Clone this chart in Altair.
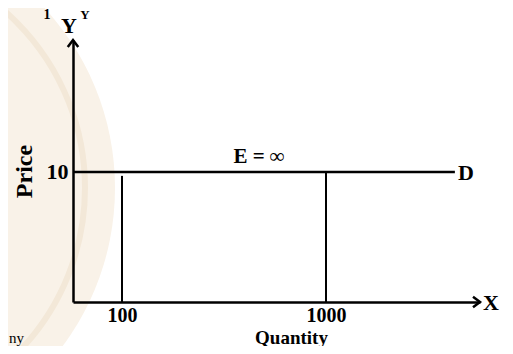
import altair as alt
import pandas as pd

# ---- data ----
quantity_ticks = [100, 1000]          # vertical lines / tick labels
line_tops = [9.7, 10]                 # price reached by each vertical line
price_level = 10                      # horizontal (perfectly elastic) demand
q_axis = [57.5, 5690]                 # quantity axis extent (schematic, log spaced)
q_demand_end = 4285                   # where the demand line D ends
p_axis = [0, 20.15]                   # price axis extent
e_label_q = 470                       # position of the "E = ∞" label along quantity

FONT = "Liberation Serif"

xs = alt.Scale(type="log", domain=q_axis, nice=False, zero=False)
ys = alt.Scale(domain=p_axis, nice=False, zero=False)

# watermark (decoration)
wm = pd.DataFrame({"k": [0]})
watermark = alt.Chart(wm).mark_point(
    shape="circle", filled=True, color="#f9f2e8", opacity=1, size=530**2
).encode(x=alt.value(-223), y=alt.value(148))
watermark_ring = alt.Chart(wm).mark_point(
    shape="circle", filled=False, color="#f3e8d8", opacity=1, strokeWidth=6, size=470**2
).encode(x=alt.value(-223), y=alt.value(148))

# axes via the scales
base = pd.DataFrame({"q": [q_axis[0], q_axis[1]], "p": [0, 0]})
axes = alt.Chart(base).mark_point(opacity=0).encode(
    x=alt.X("q:Q", scale=xs, axis=alt.Axis(
        values=quantity_ticks, format="d", ticks=False, grid=False, zindex=1,
        domainColor="black", domainWidth=2.5,
        labelFont=FONT, labelFontSize=20, labelFontWeight="bold", labelColor="black",
        labelPadding=3, labelFlush=False,
        title="Quantity", titleFont=FONT, titleFontSize=19, titleFontWeight="bold",
        titleColor="black", titleX=218, titleY=41, titleAnchor="start", titleAlign="center",
        titleBaseline="alphabetic")),
    y=alt.Y("p:Q", scale=ys, axis=alt.Axis(
        values=[price_level], format="d", ticks=False, grid=False, zindex=1,
        domainColor="black", domainWidth=2.5,
        labelFont=FONT, labelFontSize=22, labelFontWeight="bold", labelColor="black",
        labelPadding=5,
        title="Price", titleFont=FONT, titleFontSize=24, titleFontWeight="bold",
        titleColor="black", titlePadding=10)),
)

# demand line
demand_df = pd.DataFrame({"q": [q_axis[0]], "q2": [q_demand_end], "p": [price_level]})
demand = alt.Chart(demand_df).mark_rule(color="black", strokeWidth=2.5).encode(
    x=alt.X("q:Q", scale=xs), x2="q2:Q", y=alt.Y("p:Q", scale=ys))

# vertical lines
vert_df = pd.DataFrame({"q": quantity_ticks, "p0": [0, 0], "p1": line_tops})
verts = alt.Chart(vert_df).mark_rule(color="black", strokeWidth=2).encode(
    x=alt.X("q:Q", scale=xs), y=alt.Y("p0:Q", scale=ys), y2="p1:Q")

# arrowheads
xa = pd.DataFrame({"q": [q_axis[1]], "p": [0]})
x_arrow = alt.Chart(xa).mark_point(
    shape="M-1,-0.75L0,0L-1,0.75", filled=False, color="black", strokeWidth=2.5,
    size=196, opacity=1).encode(x=alt.X("q:Q", scale=xs), y=alt.Y("p:Q", scale=ys))
ya = pd.DataFrame({"q": [q_axis[0]], "p": [p_axis[1]]})
y_arrow = alt.Chart(ya).mark_point(
    shape="M-0.75,1L0,0L0.75,1", filled=False, color="black", strokeWidth=2.5,
    size=196, opacity=1).encode(x=alt.X("q:Q", scale=xs), y=alt.Y("p:Q", scale=ys))

# labels
lbl = pd.DataFrame({
    "q": [q_axis[1], q_demand_end, q_axis[0], e_label_q],
    "p": [0, price_level, p_axis[1], price_level],
    "t": ["X", "D", "Y", "E = ∞"],
})
txt_x = alt.Chart(lbl.iloc[[0, 1]]).mark_text(
    font=FONT, fontSize=22, fontWeight="bold", color="black", align="left",
    baseline="middle", dx=3, dy=1).encode(
    x=alt.X("q:Q", scale=xs), y=alt.Y("p:Q", scale=ys), text="t:N")
txt_y = alt.Chart(lbl.iloc[[2]]).mark_text(
    font=FONT, fontSize=22, fontWeight="bold", color="black", align="center",
    baseline="alphabetic", dx=-4, dy=-7).encode(
    x=alt.X("q:Q", scale=xs), y=alt.Y("p:Q", scale=ys), text="t:N")
txt_e = alt.Chart(lbl.iloc[[3]]).mark_text(
    font=FONT, fontSize=21, fontWeight="bold", color="black", align="center",
    baseline="alphabetic", dy=-9).encode(
    x=alt.X("q:Q", scale=xs), y=alt.Y("p:Q", scale=ys), text="t:N")

# small remnants in the corners of the original
rem = alt.Chart(wm).mark_text(font=FONT, fontSize=14, fontWeight="bold", color="black",
                              align="center", baseline="alphabetic").encode(
    x=alt.value(-26), y=alt.value(-21), text=alt.value("1"))
rem2 = alt.Chart(wm).mark_text(font=FONT, fontSize=13, fontWeight="bold", color="black",
                               align="center", baseline="alphabetic").encode(
    x=alt.value(12), y=alt.value(-21), text=alt.value("Y"))
rem3 = alt.Chart(wm).mark_text(font=FONT, fontSize=15, color="black",
                               align="right", baseline="alphabetic").encode(
    x=alt.value(-49), y=alt.value(303), text=alt.value("ny"))

chart = alt.layer(
    watermark, watermark_ring, axes, demand, verts, x_arrow, y_arrow,
    txt_x, txt_y, txt_e, rem, rem2, rem3
).properties(
    width=407, height=262,
    autosize=alt.AutoSizeParams(type="none"),
    padding={"left": 65, "top": 32, "right": 25, "bottom": 44},
    background="white",
).configure_view(stroke=None)

chart.save("out.html", embed_options={"renderer": "svg", "actions": False})
